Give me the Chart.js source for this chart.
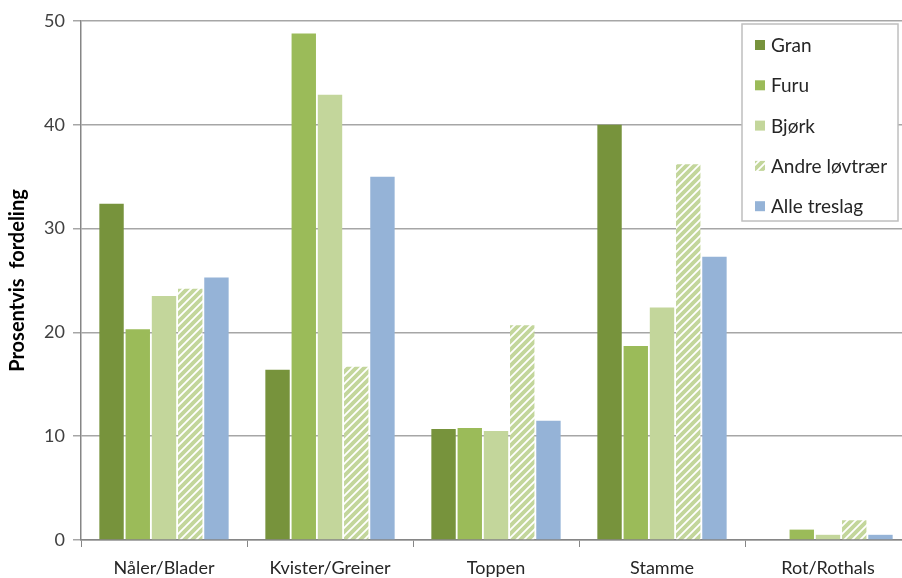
<!DOCTYPE html>
<html>
<head>
<meta charset="utf-8">
<script src="https://cdn.jsdelivr.net/npm/chart.js@4.4.1/dist/chart.umd.min.js"></script>
<style>
  html, body { margin: 0; padding: 0; background: #fff; overflow: hidden; }
  #wrap { width: 915px; height: 578px; position: relative; }
</style>
</head>
<body>
<div id="wrap"><canvas id="chartDeler" width="915" height="578"></canvas></div>
<script>
// Kategorier og verdier (prosent)
const kategorier = ['Nåler/Blader', 'Kvister/Greiner', 'Toppen', 'Stamme', 'Rot/Rothals'];
const gran = [32.4, 16.4, 10.7, 40.0, 0];
const furu = [20.3, 48.8, 10.8, 18.7, 1.0];
const bjork = [23.5, 42.9, 10.5, 22.4, 0.5];
const andreLovtraer = [24.2, 16.7, 20.7, 36.2, 1.9];
const alleTreslag = [25.3, 35.0, 11.5, 27.3, 0.5];
const yTicks = [0, 10, 20, 30, 40, 50];

const FONT = 'Lato, "Open Sans", sans-serif';

// Skravert mønster for "Andre løvtrær"
function lagSkravur() {
    const c = document.createElement('canvas');
    c.width = 8; c.height = 8;
    const g = c.getContext('2d');
    g.fillStyle = '#C3D69B';
    g.fillRect(0, 0, 8, 8);
    g.strokeStyle = '#ffffff';
    g.lineWidth = 1.8;
    g.beginPath();
    g.moveTo(-2, 10); g.lineTo(10, -2);
    g.moveTo(-2, 2); g.lineTo(2, -2);
    g.moveTo(6, 10); g.lineTo(10, 6);
    g.stroke();
    return g.createPattern(c, 'repeat');
}
const skravur = lagSkravur();

// Egen legende med ramme inne i plottet
const boksLegende = {
    id: 'boksLegende',
    afterDraw(chart) {
        const ctx = chart.ctx;
        const x0 = 742, y0 = chart.chartArea.top + 3, w = 156, h = 197;
        ctx.save();
        ctx.fillStyle = '#ffffff';
        ctx.fillRect(x0, y0, w, h);
        ctx.strokeStyle = '#BFBFBF';
        ctx.lineWidth = 1.5;
        ctx.strokeRect(x0, y0, w, h);
        ctx.font = '19px ' + FONT;
        ctx.textBaseline = 'middle';
        chart.data.datasets.forEach((ds, i) => {
            const yc = y0 + 21 + i * 40.3;
            ctx.fillStyle = ds.backgroundColor;
            ctx.fillRect(x0 + 13, yc - 5, 10, 10);
            ctx.fillStyle = '#262626';
            ctx.fillText(ds.label, x0 + 29, yc + 1);
        });
        ctx.restore();
    }
};

const ctx = document.getElementById('chartDeler').getContext('2d');
new Chart(ctx, {
    type: 'bar',
    data: {
        labels: kategorier,
        datasets: [
            { label: 'Gran', data: gran, backgroundColor: '#77933C' },
            { label: 'Furu', data: furu, backgroundColor: '#9BBB59' },
            { label: 'Bjørk', data: bjork, backgroundColor: '#C3D69B' },
            { label: 'Andre løvtrær', data: andreLovtraer, backgroundColor: skravur },
            { label: 'Alle treslag', data: alleTreslag, backgroundColor: '#95B3D7' }
        ]
    },
    options: {
        responsive: false,
        animation: false,
        devicePixelRatio: 1,
        layout: { padding: { top: 21, right: 4, left: 0, bottom: 0 } },
        datasets: { bar: { categoryPercentage: 0.79, barPercentage: 0.93 } },
        plugins: {
            legend: { display: false },
            tooltip: { enabled: false }
        },
        scales: {
            x: {
                grid: { drawOnChartArea: false, offset: true, color: '#868686', tickLength: 7 },
                border: { color: '#868686', width: 1.5 },
                ticks: { color: '#262626', font: { family: FONT, size: 18 }, padding: 10, maxRotation: 0, minRotation: 0, autoSkip: false },
                afterFit(scale) { scale.height = 38; }
            },
            y: {
                min: 0, max: 50,
                afterBuildTicks(scale) { scale.ticks = yTicks.map(v => ({ value: v })); },
                grid: { color: '#A6A6A6', lineWidth: 1.5, tickLength: 8 },
                border: { color: '#868686', width: 1.5 },
                ticks: { color: '#404040', font: { family: FONT, size: 18 }, padding: 8 },
                title: {
                    display: true,
                    text: 'Prosentvis  fordeling',
                    color: '#000000',
                    font: { family: FONT, size: 20, weight: 'bold' },
                    padding: { top: 6, bottom: 4 }
                },
                afterFit(scale) { scale.width = 81; }
            }
        }
    },
    plugins: [boksLegende]
});
</script>
</body>
</html>
